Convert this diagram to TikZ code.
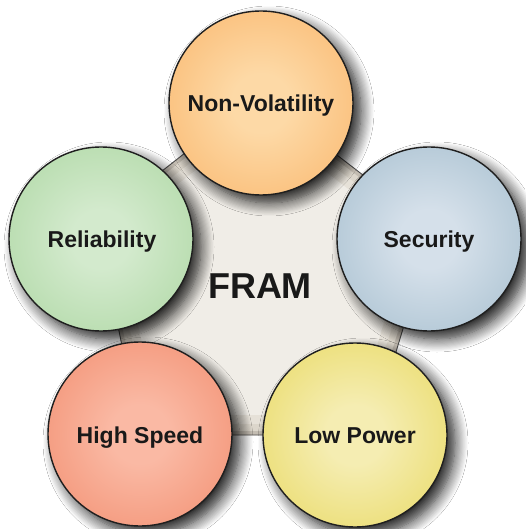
\documentclass[tikz,border=0pt]{standalone}
\usepackage{fontspec}
\setmainfont{Liberation Sans}
\usetikzlibrary{shadows.blur}
\definecolor{oin}{HTML}{FDD9A6}
\definecolor{oout}{HTML}{F8AA58}
\definecolor{gin}{HTML}{D3EACD}
\definecolor{gout}{HTML}{9FD093}
\definecolor{bin}{HTML}{D5E0EA}
\definecolor{bout}{HTML}{94B2C4}
\definecolor{rin}{HTML}{FAB9A4}
\definecolor{rout}{HTML}{EF7E5C}
\definecolor{yin}{HTML}{F5EDB2}
\definecolor{yout}{HTML}{E4D245}
\definecolor{pentfill}{HTML}{F0EDE7}
\definecolor{pentedge}{HTML}{CFC6B8}
\pgfdeclareradialshading{shOrange}{\pgfpoint{0bp}{0bp}}{color(0bp)=(oin); color(8bp)=(oin); color(46bp)=(oout); color(72bp)=(oout)}
\pgfdeclareradialshading{shGreen}{\pgfpoint{0bp}{0bp}}{color(0bp)=(gin); color(8bp)=(gin); color(46bp)=(gout); color(72bp)=(gout)}
\pgfdeclareradialshading{shBlue}{\pgfpoint{0bp}{0bp}}{color(0bp)=(bin); color(8bp)=(bin); color(46bp)=(bout); color(72bp)=(bout)}
\pgfdeclareradialshading{shRed}{\pgfpoint{0bp}{0bp}}{color(0bp)=(rin); color(8bp)=(rin); color(46bp)=(rout); color(72bp)=(rout)}
\pgfdeclareradialshading{shYellow}{\pgfpoint{0bp}{0bp}}{color(0bp)=(yin); color(8bp)=(yin); color(46bp)=(yout); color(72bp)=(yout)}
\begin{document}
\begin{tikzpicture}[x=1pt,y=-1pt,
  ball/.style={circle, draw=black!88, line width=1.4pt, minimum size=184pt, inner sep=0pt,
    blur shadow={shadow xshift=8pt, shadow yshift=-8pt, shadow blur radius=13pt, shadow opacity=90, shadow blur steps=12}},
  lab/.style={font=\bfseries\fontsize{23}{23}\selectfont, text=black!90, anchor=base, inner sep=0pt},
  biglab/.style={font=\bfseries\fontsize{36}{36}\selectfont, text=black!90, anchor=base, inner sep=0pt}]
\useasboundingbox (0,0) rectangle (525,529);
\fill[white] (0,0) rectangle (525,529);
\coordinate (p1) at (259,95);
\coordinate (p2) at (433,229);
\coordinate (p3) at (371,435);
\coordinate (p4) at (140,435);
\coordinate (p5) at (97,222);
\fill[pentfill] (p1)--(p2)--(p3)--(p4)--(p5)--cycle;
\begin{scope}
  \clip (p1)--(p2)--(p3)--(p4)--(p5)--cycle;
  \draw[pentedge, opacity=0.3, line width=40pt, line join=round] (p1)--(p2)--(p3)--(p4)--(p5)--cycle;
  \draw[pentedge, opacity=0.4, line width=22pt, line join=round] (p1)--(p2)--(p3)--(p4)--(p5)--cycle;
  \draw[pentedge!80!black, opacity=0.45, line width=8pt, line join=round] (p1)--(p2)--(p3)--(p4)--(p5)--cycle;
\end{scope}
\draw[black!70, line width=0.9pt, line join=round] (p1)--(p2)--(p3)--(p4)--(p5)--cycle;
\node[biglab] (fram) at (260,298) {FRAM};
\node[ball, shading=shOrange] (nv) at (261,103) {};
\node[ball, shading=shGreen] (rel) at (101,239) {};
\node[ball, shading=shBlue] (sec) at (429,239) {};
\node[ball, shading=shRed] (hs) at (140,434) {};
\node[ball, shading=shYellow] (lp) at (355,435) {};
\node[lab] (tnv) at (261,111.5) {Non-Volatility};
\node[lab] (trel) at (102,247.5) {Reliability};
\node[lab] (tsec) at (429,247.5) {Security};
\node[lab] (ths) at (140,443) {High Speed};
\node[lab] (tlp) at (355,443.5) {Low Power};
\end{tikzpicture}
\end{document}
